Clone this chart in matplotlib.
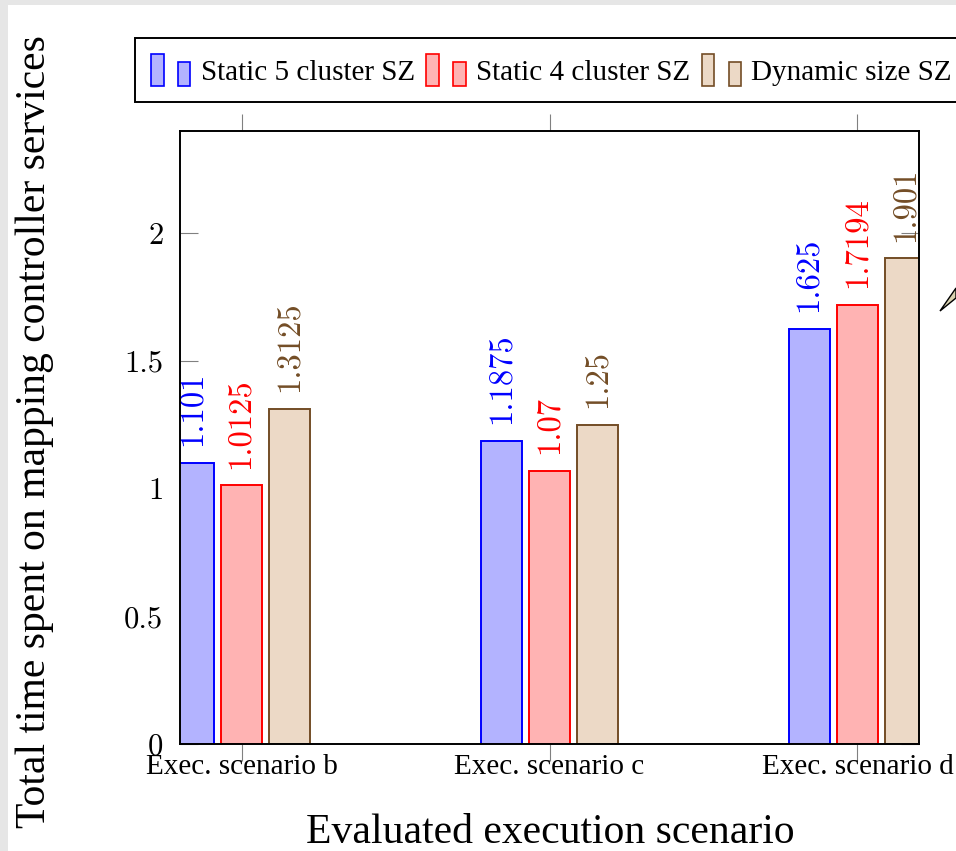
import matplotlib
matplotlib.use("Agg")
import matplotlib.pyplot as plt
import numpy as np
from matplotlib.patches import Rectangle, Polygon
from matplotlib.legend_handler import HandlerBase

# ---- data ----
scenarios = ["Exec. scenario b", "Exec. scenario c", "Exec. scenario d"]
series_names = ["Static 5 cluster SZ", "Static 4 cluster SZ", "Dynamic size SZ"]
static5 = [1.101, 1.1875, 1.625]
static4 = [1.0125, 1.07, 1.7194]
dynamic = [1.3125, 1.25, 1.901]
yticks = [0, 0.5, 1, 1.5, 2]
ytick_labels = ["0", "0.5", "1", "1.5", "2"]

edge_colors = ["#0000ff", "#ff0000", "#734d26"]
fill_colors = ["#b3b3ff", "#ffb3b3", "#ecd9c6"]

SERIF = "Liberation Serif"
CM = "cmr10"

W, H = 956, 851
fig = plt.figure(figsize=(W / 100, H / 100), dpi=100)

# gray page border (top/left)
fig.patches.append(Rectangle((0, 1 - 5 / H), 1, 5 / H, transform=fig.transFigure,
                             facecolor="#e6e6e6", edgecolor="none", zorder=0))
fig.patches.append(Rectangle((0, 0), 8 / W, 1, transform=fig.transFigure,
                             facecolor="#e6e6e6", edgecolor="none", zorder=0))

L, R, T, B = 180, 919, 131, 744
ax = fig.add_axes([L / W, 1 - B / H, (R - L) / W, (B - T) / H])

x = np.arange(len(scenarios))
width = 0.133
offset = 0.157
series = [static5, static4, dynamic]
handles = []
for i, vals in enumerate(series):
    xs = x + (i - 1) * offset
    bars = ax.bar(xs, vals, width, facecolor=fill_colors[i], edgecolor=edge_colors[i],
                  linewidth=1.4, zorder=3, label=series_names[i])
    handles.append(bars[0])
    for xv, v in zip(xs, vals):
        ax.annotate(f"{v:g}", (xv, v), xytext=(0, 12), textcoords="offset points",
                    rotation=90, ha="center", va="bottom", color=edge_colors[i],
                    fontsize=23.5, family=CM, zorder=4, annotation_clip=False)

ax.set_xlim(-0.2, 2.2)
ax.set_ylim(0, 2.4)
ax.set_yticks(yticks)
ax.set_yticklabels(ytick_labels, family=CM, fontsize=22)
ax.set_xticks(x)
ax.set_xticklabels(scenarios, family=SERIF, fontsize=21)

ax.tick_params(axis="y", direction="in", length=13, width=0.8, color="#808080",
               left=True, right=True, pad=12)
ax.tick_params(axis="x", direction="out", length=12, width=0.8, color="#808080",
               top=True, bottom=True, pad=-5)
for s in ax.spines.values():
    s.set_linewidth(1.4)
    s.set_color("black")
    s.set_zorder(5)

fig.text(550 / W, 1 - 833 / H, "Evaluated execution scenario", family=SERIF,
         fontsize=30, ha="center", va="center")
fig.text(35 / W, 1 - 432 / H, "Total time spent on mapping controller services",
         family=SERIF, fontsize=30, ha="center", va="center", rotation=90)


class TwoBars(HandlerBase):
    def create_artists(self, legend, orig_handle, xdescent, ydescent, width, height,
                       fontsize, trans):
        fc = orig_handle.get_facecolor()
        ec = orig_handle.get_edgecolor()
        w = width * 0.32
        r1 = Rectangle((-xdescent, -ydescent), w, height, facecolor=fc, edgecolor=ec,
                       linewidth=1.2, transform=trans)
        r2 = Rectangle((-xdescent + width - w, -ydescent), w, height * 0.75,
                       facecolor=fc, edgecolor=ec, linewidth=1.2, transform=trans)
        return [r1, r2]


leg = fig.legend(handles=handles, labels=series_names, loc="upper left",
                 bbox_to_anchor=(135 / W, 1 - 38 / H), ncol=3, frameon=True,
                 fancybox=False, edgecolor="black", framealpha=1,
                 prop={"family": SERIF, "size": 21}, handlelength=1.35,
                 handleheight=1.3, handletextpad=0.35, columnspacing=0.4,
                 borderpad=0.55, borderaxespad=0,
                 handler_map={Rectangle: TwoBars()})
leg.get_frame().set_linewidth(1.4)

# partial callout wedge at right edge
fig.patches.append(Polygon([(940 / W, 1 - 311 / H), (956 / W, 1 - 288 / H),
                            (956 / W, 1 - 298 / H)], closed=True,
                           transform=fig.transFigure, facecolor="#d9d2b0",
                           edgecolor="black", linewidth=1.0, zorder=6))

fig.savefig("out.png", dpi=100)
